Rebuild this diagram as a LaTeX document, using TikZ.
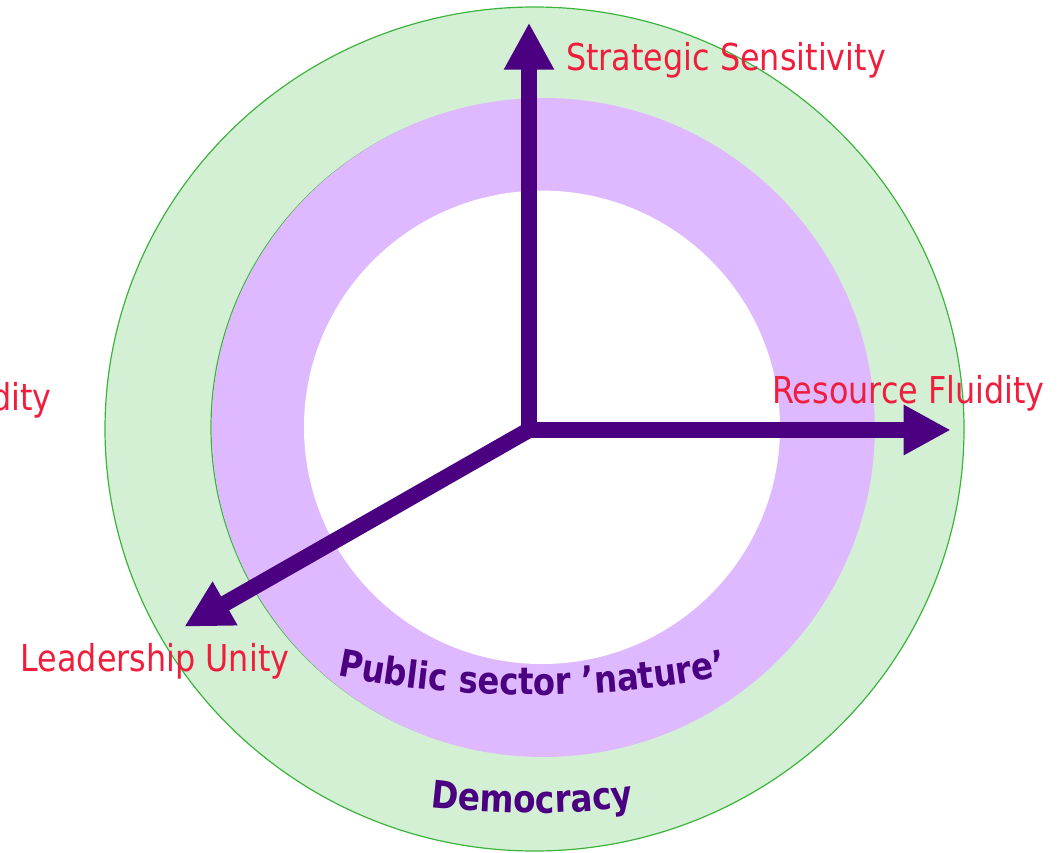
\documentclass[tikz,border=0pt]{standalone}
\usepackage{fontspec}
\newfontfamily\tah[FakeStretch=0.86]{DejaVu Sans}
\usetikzlibrary{arrows.meta,decorations.text}
\definecolor{lblred}{RGB}{240,30,60}
\definecolor{axpur}{RGB}{75,0,130}
\definecolor{ringgreen}{RGB}{212,240,212}
\definecolor{ringline}{RGB}{60,180,60}
\definecolor{ringpur}{RGB}{222,185,255}
\tikzset{
  axis/.style={draw=axpur, line width=16pt, -{Triangle[length=47pt,width=47pt]}},
  lbl/.style={inner sep=0pt, text=lblred, font=\tah\fontsize{37}{40}\selectfont}
}
\begin{document}
\begin{tikzpicture}[x=1pt,y=-1pt]
\useasboundingbox (0,0) rectangle (1059,853);
\clip (0,0) rectangle (1059,853);
% rings
\fill[ringgreen, draw=ringline, line width=1.2pt] (534.5,429) ellipse [x radius=429.5, y radius=422];
\draw[ringline, line width=1.2pt] (542,427.5) ellipse [x radius=331, y radius=328];
\fill[ringpur] (543.3,427.5) ellipse [x radius=331.5, y radius=329.5];
\fill[white] (542,427.3) ellipse [x radius=238, y radius=236.7];
% axes
\coordinate (O) at (529,430);
\coordinate (ss) at (529,22.7);
\coordinate (rf) at (950.7,430);
\coordinate (lu) at (184.3,626.7);
\draw[axis, line join=miter] (O) -- (ss);
\draw[axis] (O) -- (rf);
\draw[axis] (O) -- (lu);
\fill[axpur] (521,422) rectangle (537,438);
% labels
\node[lbl, anchor=base west] (tss) at (566,71) {Strategic Sensitivity};
\node[lbl, anchor=base west] (trf) at (772,403.3) {Resource Fluidity};
\node[lbl, anchor=base west] (tlu) at (20.5,671.7) {Leadership Unity};
\node[lbl, anchor=base east] (tleft) at (52,410) {dity};
% curved texts
\path[decorate, decoration={text along path, text align=center,
  text={|\tah\bfseries\fontsize{37.5}{37.5}\selectfont\color{axpur}|Public sector ’nature’}}]
  (532,-305) ++(105:1000) arc[start angle=105, end angle=75, radius=1000];
\path[decorate, decoration={text along path, text align=center,
  text={|\tah\bfseries\fontsize{38}{38}\selectfont\color{axpur}|Democracy}}]
  (532,-37) ++(104:850) arc[start angle=104, end angle=76, radius=850];
\end{tikzpicture}
\end{document}
